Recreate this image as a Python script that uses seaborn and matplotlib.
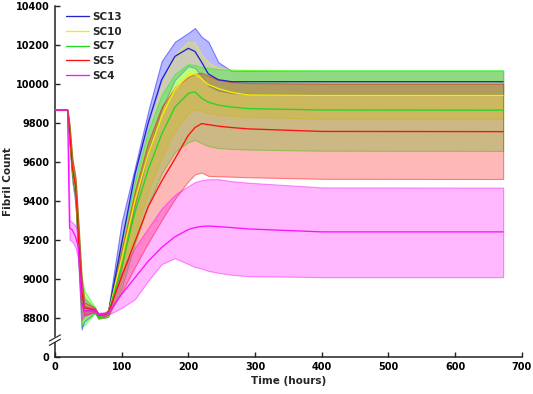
import numpy as np
import pandas as pd
import matplotlib
matplotlib.use("Agg")
import matplotlib.pyplot as plt
from matplotlib.colors import to_rgba
import seaborn as sns

# time points (hours)
t_hours = [0, 19, 22, 26, 31, 35, 40, 44, 60, 65, 75, 80, 100, 120, 140, 160,
           180, 200, 210, 220, 230, 245, 265, 290, 400, 672]

series_names = ["SC13", "SC10", "SC7", "SC5", "SC4"]

# mean / lower / upper of the shaded band for each series
sc13_mean = [9865, 9865, 9740, 9560, 9440, 9200, 8900, 8840, 8835, 8808, 8812, 8822, 9180, 9535,
             9800, 10020, 10140, 10181, 10165, 10110, 10050, 10020, 10010, 10010, 10010, 10010]
sc13_lo = [9865, 9865, 9700, 9500, 9380, 9100, 8740, 8780, 8825, 8795, 8800, 8805, 9060, 9380,
           9650, 9870, 10020, 10090, 10080, 10040, 9990, 9965, 9952, 9947, 9946, 9946]
sc13_hi = [9865, 9865, 9780, 9610, 9500, 9280, 8990, 8900, 8850, 8820, 8822, 8840, 9290, 9570,
           9860, 10115, 10215, 10260, 10285, 10240, 10215, 10110, 10065, 10065, 10065, 10065]

sc10_mean = [9865, 9865, 9750, 9565, 9455, 9210, 8910, 8845, 8838, 8806, 8813, 8822, 9100, 9400,
             9640, 9830, 9970, 10045, 10050, 10025, 9995, 9975, 9955, 9942, 9940, 9940]
sc10_lo = [9865, 9865, 9710, 9510, 9400, 9120, 8770, 8790, 8828, 8795, 8802, 8810, 8980, 9230,
           9450, 9620, 9760, 9850, 9870, 9860, 9850, 9840, 9835, 9830, 9820, 9820]
sc10_hi = [9865, 9865, 9785, 9615, 9505, 9285, 9000, 8920, 8850, 8818, 8822, 8840, 9150, 9480,
           9760, 9990, 10150, 10215, 10210, 10150, 10110, 10080, 10075, 10070, 10065, 10065]

sc7_mean = [9865, 9865, 9755, 9570, 9460, 9220, 8920, 8848, 8838, 8805, 8812, 8822, 9060, 9340,
            9560, 9740, 9880, 9950, 9958, 9925, 9905, 9890, 9880, 9872, 9865, 9864]
sc7_lo = [9865, 9865, 9720, 9520, 9410, 9130, 8760, 8760, 8825, 8795, 8800, 8805, 8950, 9180,
          9380, 9540, 9650, 9700, 9712, 9695, 9680, 9670, 9665, 9662, 9656, 9655]
sc7_hi = [9865, 9865, 9790, 9620, 9510, 9300, 9020, 8940, 8855, 8820, 8825, 8840, 9200, 9500,
          9760, 9940, 10050, 10100, 10095, 10085, 10080, 10075, 10072, 10070, 10070, 10070]

sc5_mean = [9865, 9865, 9760, 9574, 9472, 9234, 8942, 8850, 8840, 8812, 8815, 8825, 9010, 9190,
            9370, 9500, 9615, 9735, 9775, 9795, 9790, 9782, 9775, 9768, 9755, 9754]
sc5_lo = [9865, 9865, 9730, 9530, 9420, 9170, 8870, 8810, 8830, 8800, 8805, 8815, 8930, 9060,
          9185, 9300, 9410, 9500, 9535, 9544, 9527, 9525, 9523, 9520, 9512, 9511]
sc5_hi = [9865, 9865, 9790, 9620, 9520, 9300, 9010, 8880, 8850, 8822, 8825, 8840, 9150, 9450,
          9700, 9880, 9980, 10035, 10050, 10056, 10040, 10020, 10008, 10003, 10000, 10000]

sc4_mean = [9865, 9865, 9260, 9250, 9215, 9164, 8880, 8835, 8835, 8815, 8820, 8825, 8920, 9005,
            9090, 9160, 9215, 9252, 9262, 9268, 9270, 9267, 9262, 9255, 9240, 9240]
sc4_lo = [9865, 9865, 9200, 9190, 9160, 9100, 8790, 8815, 8828, 8805, 8810, 8815, 8850, 8895,
          8990, 9075, 9105, 9075, 9060, 9052, 9040, 9030, 9020, 9013, 9008, 9008]
sc4_hi = [9865, 9865, 9300, 9290, 9270, 9230, 8960, 8860, 8845, 8825, 8828, 8830, 9030, 9160,
          9260, 9360, 9430, 9475, 9495, 9505, 9510, 9510, 9500, 9492, 9468, 9467]

y_ticks = [8600, 8800, 9000, 9200, 9400, 9600, 9800, 10000, 10200, 10400]
y_tick_labels = ["0", "8800", "9000", "9200", "9400", "9600", "9800", "10000", "10200", "10400"]
x_ticks = [0, 100, 200, 300, 400, 500, 600, 700]

line_colors = ["#2424c8", "#f0f000", "#22d822", "#ff1010", "#ff10ff"]
band_colors = ["#0000ff", "#ffff00", "#00ff00", "#ff0000", "#ff00ff"]

means = [sc13_mean, sc10_mean, sc7_mean, sc5_mean, sc4_mean]
lows = [sc13_lo, sc10_lo, sc7_lo, sc5_lo, sc4_lo]
highs = [sc13_hi, sc10_hi, sc7_hi, sc5_hi, sc4_hi]

rows = []
for name, m, lo, hi in zip(series_names, means, lows, highs):
    for t, a, b, c in zip(t_hours, m, lo, hi):
        rows.append({"series": name, "t": t, "mean": a, "lo": b, "hi": c})
df = pd.DataFrame(rows)

sns.set_theme(style="ticks")
plt.rcParams["font.family"] = ["DejaVu Sans"]
plt.rcParams["font.weight"] = "bold"

fig = plt.figure(figsize=(5.33, 3.94), dpi=100)
ax = fig.add_axes([0.103, 0.0947, 0.876, 0.891])

# shaded bands
for name, bc in zip(series_names, band_colors):
    d = df[df["series"] == name]
    ax.fill_between(d["t"], d["lo"], d["hi"], facecolor=to_rgba(bc, 0.28),
                    edgecolor=to_rgba(bc, 0.45), linewidth=0.8, zorder=1)

sns.lineplot(data=df, x="t", y="mean", hue="series", hue_order=series_names,
             palette=line_colors, linewidth=0.95, errorbar=None, ax=ax, zorder=3)

ax.set_xlim(0, 700)
ax.set_ylim(8600, 10400)
ax.set_xticks(x_ticks)
ax.set_yticks(y_ticks)
ax.set_yticklabels(y_tick_labels)
ax.set_xlabel("Time (hours)", fontsize=7.5, fontweight="bold", labelpad=3)
ax.set_ylabel("Fibril Count", fontsize=7.5, fontweight="bold", labelpad=2)
ax.tick_params(direction="in", length=3.5, width=1, colors="#222222", labelsize=7,
               pad=4)
for lab in ax.get_xticklabels() + ax.get_yticklabels():
    lab.set_fontweight("bold")
    lab.set_color("black")
sns.despine(ax=ax)
for s in ["left", "bottom"]:
    ax.spines[s].set_linewidth(1.1)
    ax.spines[s].set_color("#222222")

# axis break marks
tr = ax.get_yaxis_transform()
ax.fill([-0.012, 0.012, 0.012, -0.012], [8662, 8694, 8712, 8680], color="white",
        transform=tr, clip_on=False, zorder=5)
ax.plot([-0.012, 0.012], [8658, 8690], color="#222222", lw=0.8, transform=tr, clip_on=False, zorder=6)
ax.plot([-0.012, 0.012], [8680, 8712], color="#222222", lw=0.8, transform=tr, clip_on=False, zorder=6)

sns.move_legend(ax, "upper left", bbox_to_anchor=(0.01, 1.0), frameon=False, title=None,
                prop={"weight": "bold", "size": 7.5}, handlelength=2.2, handletextpad=0.3,
                labelspacing=0.45, borderaxespad=0.2)

fig.savefig("out.png", dpi=100)
